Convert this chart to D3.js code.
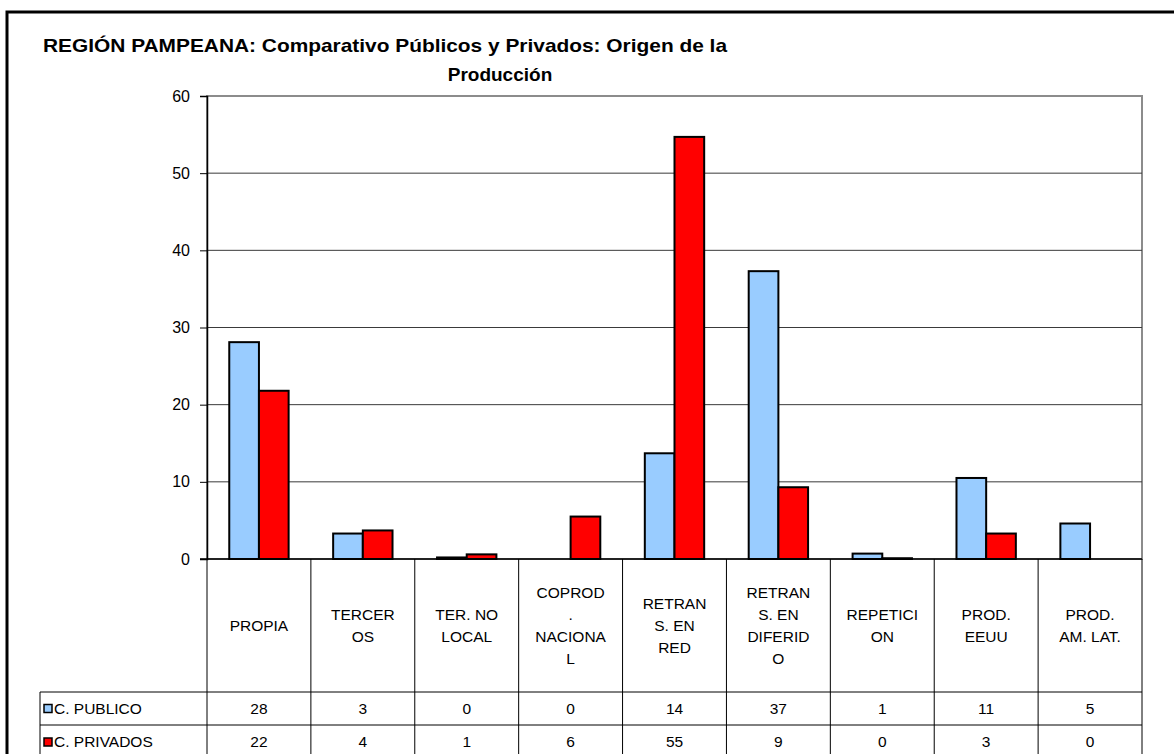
<!DOCTYPE html>
<html>
<head>
<meta charset="utf-8">
<script src="https://cdn.jsdelivr.net/npm/d3@7"></script>
<style>
  body { margin: 0; background: #fff; }
  text { font-family: "Liberation Sans", Arial, sans-serif; fill: #000; }
</style>
</head>
<body>
<script>
// categories (as wrapped in the header cells of the data table)
var categories = ["PROPIA", "TERCEROS", "TER. NO LOCAL", "COPROD. NACIONAL", "RETRANS. EN RED",
                  "RETRANS. EN DIFERIDO", "REPETICION", "PROD. EEUU", "PROD. AM. LAT."];
var categoryLines = [
  ["PROPIA"],
  ["TERCER", "OS"],
  ["TER. NO", "LOCAL"],
  ["COPROD", ".", "NACIONA", "L"],
  ["RETRAN", "S. EN", "RED"],
  ["RETRAN", "S. EN", "DIFERID", "O"],
  ["REPETICI", "ON"],
  ["PROD.", "EEUU"],
  ["PROD.", "AM. LAT."]
];
var seriesNames = ["C. PUBLICO", "C. PRIVADOS"];
var seriesColors = ["#99CCFF", "#FF0000"];
// bar heights
var publico  = [28.1, 3.3, 0.2, 0, 13.7, 37.3, 0.7, 10.5, 4.6];
var privados = [21.8, 3.7, 0.6, 5.5, 54.7, 9.3, 0.1, 3.3, 0];
// rounded values printed in the table
var publicoTable  = [28, 3, 0, 0, 14, 37, 1, 11, 5];
var privadosTable = [22, 4, 1, 6, 55, 9, 0, 3, 0];
var yTicks = [0, 10, 20, 30, 40, 50, 60];

var W = 1174, H = 754;
var plotL = 207, plotR = 1142, plotT = 96, plotB = 559;
var row1 = 692, row2 = 725, tableLeft = 40;

var svg = d3.select("body").append("svg").attr("width", W).attr("height", H);

// outer chart border
svg.append("rect")
  .attr("x", 7).attr("y", 12).attr("width", W + 20).attr("height", H + 20)
  .attr("fill", "#fff").attr("stroke", "#000").attr("stroke-width", 3);

// title
svg.append("text").attr("x", 43).attr("y", 52)
  .style("font-size", "19px").style("font-weight", "bold")
  .attr("textLength", 684).attr("lengthAdjust", "spacingAndGlyphs")
  .text("REGIÓN PAMPEANA: Comparativo Públicos y Privados: Origen de la");
svg.append("text").attr("x", 500).attr("y", 81)
  .style("font-size", "19px").style("font-weight", "bold")
  .attr("text-anchor", "middle")
  .text("Producción");

var yScale = d3.scaleLinear().domain([0, 60]).range([plotB, plotT]);
var xScale = d3.scaleBand().domain(categories).range([plotL, plotR]);
var bw = xScale.bandwidth();
var gap = bw * 1.5 / 3.5;
var xInner = d3.scaleBand().domain([0, 1]).range([gap / 2, bw - gap / 2]);

// plot area
svg.append("rect")
  .attr("x", plotL).attr("y", plotT).attr("width", plotR - plotL).attr("height", plotB - plotT)
  .attr("fill", "#fff").attr("stroke", "#8c8c8c").attr("stroke-width", 2);

// gridlines
svg.append("g").selectAll("line")
  .data(yTicks.filter(function(d) { return d > 0 && d < 60; }))
  .enter().append("line")
  .attr("x1", plotL).attr("x2", plotR)
  .attr("y1", function(d) { return yScale(d); })
  .attr("y2", function(d) { return yScale(d); })
  .attr("stroke", "#3a3a3a").attr("stroke-width", 1);

// Y axis
var yAxis = d3.axisLeft(yScale).tickValues(yTicks).tickSize(7).tickPadding(10);
var gy = svg.append("g").attr("transform", "translate(" + plotL + ",0)").call(yAxis);
gy.select(".domain").attr("stroke", "#000").attr("stroke-width", 1.5);
gy.selectAll(".tick line").attr("stroke", "#000");
gy.selectAll(".tick text").style("font-size", "16px").style("font-family", "Liberation Sans, Arial, sans-serif")
  .attr("fill", "#000");

// bars
var groups = svg.append("g").selectAll("g")
  .data(categories)
  .enter().append("g")
  .attr("transform", function(d) { return "translate(" + xScale(d) + ",0)"; });

groups.each(function(c, i) {
  var vals = [publico[i], privados[i]];
  vals.forEach(function(v, j) {
    if (v <= 0) return;
    d3.select(this).append("rect")
      .attr("x", xInner(j)).attr("width", xInner.bandwidth())
      .attr("y", yScale(v)).attr("height", yScale(0) - yScale(v))
      .attr("fill", seriesColors[j]).attr("stroke", "#000").attr("stroke-width", 2);
  }, this);
});

// zero line
svg.append("line").attr("x1", plotL - 7).attr("x2", plotR)
  .attr("y1", plotB).attr("y2", plotB).attr("stroke", "#000").attr("stroke-width", 1.5);

// data table
var tg = svg.append("g").attr("stroke", "#000").attr("stroke-width", 1);
var colEdges = categories.map(function(c) { return xScale(c); }).concat([plotR]);
tg.selectAll("line.v").data(colEdges).enter().append("line")
  .attr("x1", function(d) { return d; }).attr("x2", function(d) { return d; })
  .attr("y1", plotB).attr("y2", H);
tg.append("line").attr("x1", tableLeft).attr("x2", tableLeft).attr("y1", row1).attr("y2", H);
tg.append("line").attr("x1", tableLeft).attr("x2", plotR).attr("y1", row1).attr("y2", row1);
tg.append("line").attr("x1", tableLeft).attr("x2", plotR).attr("y1", row2).attr("y2", row2);

// header labels
var lineH = 22;
var headCenter = (plotB + row1) / 2;
categories.forEach(function(c, i) {
  var lines = categoryLines[i];
  var y0 = headCenter - (lines.length - 1) * lineH / 2;
  var t = svg.append("text")
    .attr("x", xScale(c) + bw / 2)
    .attr("text-anchor", "middle")
    .style("font-size", "15.5px");
  lines.forEach(function(l, k) {
    t.append("tspan").attr("x", xScale(c) + bw / 2).attr("y", y0 + k * lineH)
      .attr("dy", "0.35em").text(l);
  });
});

// table rows
var rows = [publicoTable, privadosTable];
var rowMid = [(row1 + row2) / 2, row2 + 17];
rows.forEach(function(vals, j) {
  svg.append("rect")
    .attr("x", tableLeft + 4).attr("y", rowMid[j] - 4).attr("width", 8).attr("height", 8)
    .attr("fill", seriesColors[j]).attr("stroke", "#000").attr("stroke-width", 1.5);
  svg.append("text").attr("x", tableLeft + 14).attr("y", rowMid[j]).attr("dy", "0.35em")
    .style("font-size", "15.5px").text(seriesNames[j]);
  svg.append("g").selectAll("text")
    .data(vals).enter().append("text")
    .attr("x", function(d, i) { return xScale(categories[i]) + bw / 2; })
    .attr("y", rowMid[j]).attr("dy", "0.35em")
    .attr("text-anchor", "middle")
    .style("font-size", "15.5px")
    .text(function(d) { return d; });
});
</script>
</body>
</html>
